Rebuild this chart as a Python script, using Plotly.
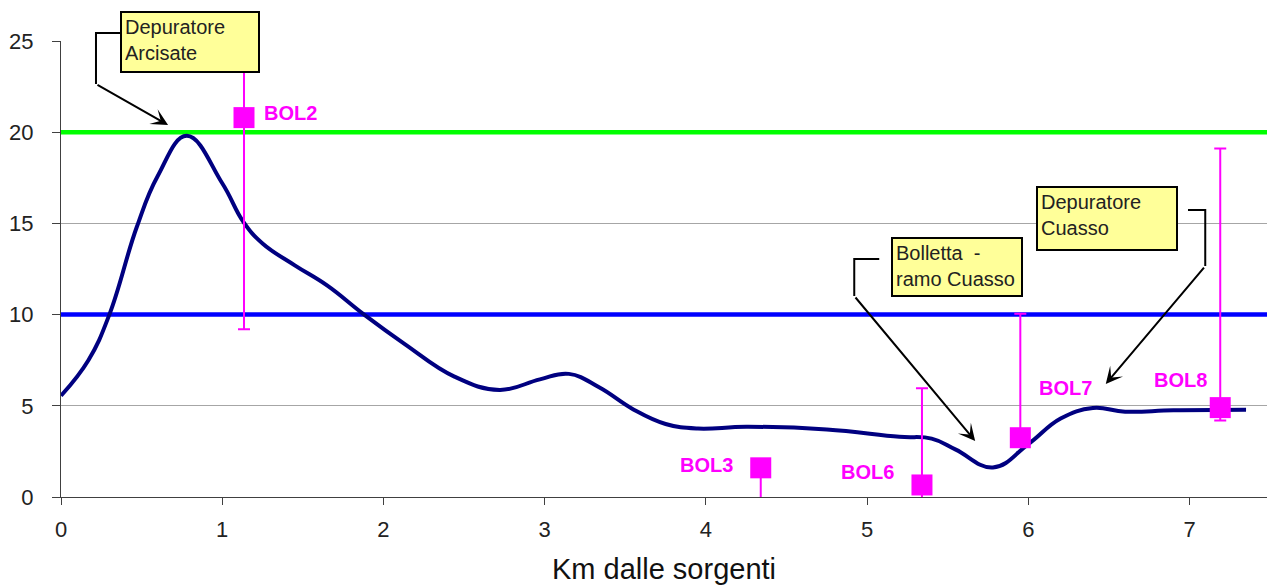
import plotly.graph_objects as go

# Concentration profile along the stream (km from the springs)
km_profile = [0.0, 0.17, 0.30, 0.47, 0.60, 0.78, 1.00, 1.13, 1.25, 1.45, 1.65, 1.88,
              2.13, 2.44, 2.72, 2.97, 3.15, 3.34, 3.55, 3.75, 3.95, 4.25, 4.75,
              5.20, 5.40, 5.55, 5.78, 6.00, 6.20, 6.40, 6.60, 6.90, 7.35]
val_profile = [5.55, 7.5, 10.0, 14.8, 17.6, 19.8, 17.2, 15.1, 13.9, 12.7, 11.6, 10.0,
               8.4, 6.6, 5.87, 6.45, 6.75, 6.0, 4.8, 4.0, 3.75, 3.85, 3.7,
               3.3, 3.2, 2.6, 1.62, 2.9, 4.3, 4.88, 4.68, 4.75, 4.78]

# Sampling stations with measured values and error ranges
stations = ["BOL2", "BOL3", "BOL6", "BOL7", "BOL8"]
km_stations = [1.135, 4.34, 5.34, 5.95, 7.19]
val_stations = [20.8, 1.6, 0.66, 3.25, 4.9]
err_plus = [11.6, 0.0, 5.3, 6.8, 14.2]
err_minus = [11.6, 3.0, 3.0, 0.0, 0.7]

# Reference limits
limit_high = 20
limit_low = 10

x_range = [0, 7.48]
y_range = [0, 25]
x_ticks = [0, 1, 2, 3, 4, 5, 6, 7]
y_ticks = [0, 5, 10, 15, 20, 25]

# Label offsets (px) for station names
label_shift = [(46, 5), (-54, 3), (-54, 13), (45, 50), (-40, 28)]

# Callouts: text, box top-left (data), box size (px), connector path (data), arrow tip (data)
callouts = [
    dict(text="Depuratore<br>Arcisate", box=(0.366, 26.64), size=(140, 62),
         path=[(0.366, 25.44), (0.217, 25.44), (0.217, 22.64)], tip=(0.664, 20.4)),
    dict(text="Bolletta\u00a0 -<br>ramo Cuasso", box=(5.15, 14.25), size=(132, 60),
         path=[(5.075, 13.05), (4.92, 13.05), (4.92, 11.02)], tip=(5.67, 3.07)),
    dict(text="Depuratore<br>Cuasso", box=(6.05, 17.05), size=(142, 65),
         path=[(6.99, 15.73), (7.097, 15.73), (7.097, 12.66)], tip=(6.48, 6.2)),
]

FONT = "Liberation Sans, Arial, sans-serif"


def to_paper(x, y):
    return ((x - x_range[0]) / (x_range[1] - x_range[0]),
            (y - y_range[0]) / (y_range[1] - y_range[0]))


fig = go.Figure()

# Limit lines, drawn first so the data sits on top
for val, col in [(limit_high, "#00FF00"), (limit_low, "#0000FF")]:
    fig.add_trace(go.Scatter(
        x=x_range, y=[val, val], mode="lines",
        line=dict(color=col, width=4.5), hoverinfo="skip", showlegend=False,
    ))

fig.add_trace(go.Scatter(
    x=km_profile, y=val_profile, mode="lines",
    line=dict(color="#000080", width=4, shape="spline", smoothing=1.2),
    hoverinfo="skip", showlegend=False,
))

fig.add_trace(go.Scatter(
    x=km_stations, y=val_stations, mode="markers",
    marker=dict(symbol="square", size=21, color="#FF00FF", opacity=1,
                line=dict(width=0)),
    error_y=dict(type="data", symmetric=False, array=err_plus, arrayminus=err_minus,
                 color="#FF00FF", thickness=2, width=6),
    showlegend=False,
))

# Station labels
for name, xv, yv, (dx, dy) in zip(stations, km_stations, val_stations, label_shift):
    fig.add_annotation(x=xv, y=yv, text="<b>%s</b>" % name, showarrow=False,
                       xshift=dx, yshift=dy,
                       font=dict(family=FONT, size=20, color="#FF00FF"))

# Callouts with elbow connectors
for c in callouts:
    pts = [to_paper(px, py) for px, py in c["path"]]
    d = "M " + " L ".join("%f,%f" % p for p in pts)
    fig.add_shape(type="path", xref="paper", yref="paper", path=d,
                  line=dict(color="black", width=2), layer="above")
    lx, ly = c["path"][-1]
    fig.add_annotation(x=c["tip"][0], y=c["tip"][1], ax=lx, ay=ly,
                       xref="x", yref="y", axref="x", ayref="y",
                       text="", showarrow=True, arrowhead=3, arrowsize=1.4,
                       arrowwidth=2, arrowcolor="black", standoff=0)
    w, h = c["size"]
    bx, by = to_paper(*c["box"])
    fig.add_annotation(x=bx, y=by, xref="paper", yref="paper",
                       xanchor="left", yanchor="top", showarrow=False,
                       text=c["text"], align="left", valign="top",
                       width=w - 10, height=h - 10, borderpad=3, borderwidth=2,
                       bordercolor="black", bgcolor="#FFFF99",
                       font=dict(family=FONT, size=20, color="#222222"))

fig.update_layout(
    width=1271, height=587,
    margin=dict(l=61, r=4, t=41, b=90),
    plot_bgcolor="white", paper_bgcolor="white",
    font=dict(family=FONT, color="#222222"),
)
fig.update_xaxes(
    range=x_range, tickvals=x_ticks, showgrid=False, zeroline=False,
    showline=True, linecolor="#404040", linewidth=1,
    ticks="outside", ticklen=7, tickcolor="#404040",
    tickfont=dict(size=22, family=FONT, color="#222222"), ticklabelstandoff=6,
    title=dict(text="Km dalle sorgenti", font=dict(size=29, family=FONT, color="#111111"), standoff=17),
)
fig.update_yaxes(
    range=y_range, tickvals=y_ticks, showgrid=True, gridcolor="#A6A6A6", gridwidth=1,
    zeroline=False, showline=True, linecolor="#404040", linewidth=1,
    ticks="outside", ticklen=8, tickcolor="#404040",
    tickfont=dict(size=22, family=FONT, color="#222222"), ticklabelstandoff=14,
)

fig.write_html("out.html")
